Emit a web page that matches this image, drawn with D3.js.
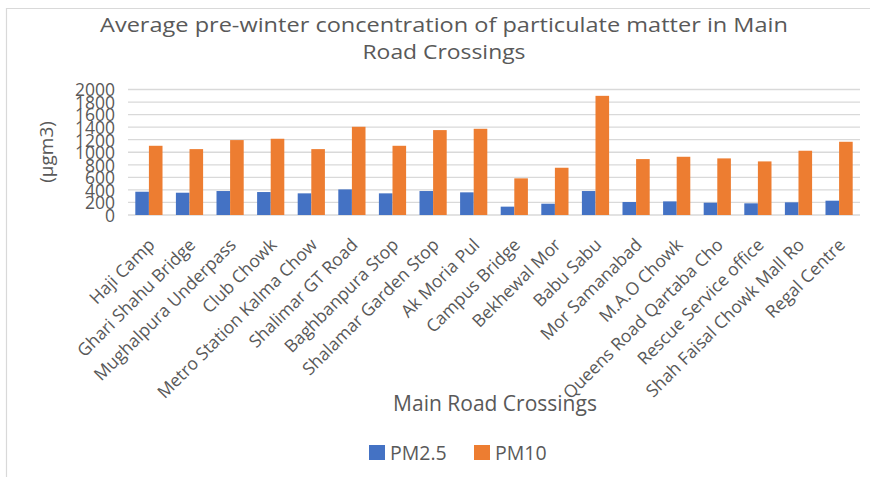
<!DOCTYPE html>
<html>
<head>
<meta charset="utf-8">
<script src="https://cdn.jsdelivr.net/npm/d3@7"></script>
<style>
  html, body { margin: 0; padding: 0; background: #fff; }
  svg { display: block; }
  text { font-family: "Open Sans", sans-serif; fill: #595959; }
</style>
</head>
<body>
<svg id="chart" width="870" height="477"></svg>
<script>
const categories = ["Haji Camp", "Ghari Shahu Bridge", "Mughalpura Underpass", "Club Chowk",
  "Metro Station Kalma Chow", "Shalimar GT Road", "Baghbanpura Stop", "Shalamar Garden Stop",
  "Ak Moria Pul", "Campus Bridge", "Bekhewal Mor", "Babu Sabu", "Mor Samanabad", "M.A.O Chowk",
  "Queens Road Qartaba Cho", "Rescue Service office", "Shah Faisal Chowk Mall Ro", "Regal Centre"];
const pm25 = [371, 355, 382, 366, 345, 408, 345, 382, 361, 133, 180, 382, 207, 217, 196, 186, 202, 228];
const pm10 = [1103, 1050, 1194, 1215, 1050, 1406, 1103, 1353, 1374, 584, 753, 1899, 891, 928, 902, 854, 1024, 1167];
const seriesNames = ["PM2.5", "PM10"];
const seriesColors = ["#4472C4", "#ED7D31"];
const yTicks = [0, 200, 400, 600, 800, 1000, 1200, 1400, 1600, 1800, 2000];

const svg = d3.select("#chart");

// chart border (left and top only visible)
svg.append("path")
  .attr("d", "M6.5,477 L6.5,8.5 L870,8.5")
  .attr("fill", "none").attr("stroke", "#d9d9d9").attr("stroke-width", 1.2);

const plot = { left: 128, right: 860, top: 89.5, bottom: 215 };

const x = d3.scaleBand().domain(categories).range([plot.left, plot.right])
  .paddingInner(0.33).paddingOuter(0.18);
const xs = d3.scaleBand().domain(seriesNames).range([0, x.bandwidth()]);
const y = d3.scaleLinear().domain([0, 2000]).range([plot.bottom, plot.top]);

// gridlines
svg.append("g").selectAll("line").data(yTicks).join("line")
  .attr("x1", plot.left).attr("x2", plot.right)
  .attr("y1", d => y(d)).attr("y2", d => y(d))
  .attr("stroke", "#d9d9d9").attr("stroke-width", 1.3);

// y axis labels
const yAxis = d3.axisLeft(y).tickValues(yTicks).tickFormat(d3.format("d")).tickSize(0).tickPadding(0);
const yg = svg.append("g").attr("transform", `translate(115,0)`).call(yAxis);
yg.select(".domain").remove();
yg.selectAll("text").attr("font-size", 17.5).style("fill", "#595959")
  .attr("font-family", "Open Sans, sans-serif").attr("dy", "0.36em");

// bars
const rows = categories.map((c, i) => ({ c, vals: [pm25[i], pm10[i]] }));
const groups = svg.append("g").selectAll("g").data(rows).join("g")
  .attr("transform", d => `translate(${x(d.c)},0)`);
groups.selectAll("rect").data(d => d.vals.map((v, k) => ({ k, v }))).join("rect")
  .attr("x", d => xs(seriesNames[d.k]))
  .attr("width", xs.bandwidth())
  .attr("y", d => y(d.v))
  .attr("height", d => y(0) - y(d.v))
  .attr("fill", d => seriesColors[d.k]);

// x axis labels
const xAxis = d3.axisBottom(x).tickSize(0).tickPadding(0);
const xg = svg.append("g").attr("transform", `translate(0,${plot.bottom})`).call(xAxis);
xg.select(".domain").remove();
xg.selectAll(".tick text")
  .attr("font-size", 17.5).attr("font-family", "Open Sans, sans-serif").style("fill", "#595959")
  .attr("text-anchor", "end")
  .attr("dy", 0).attr("y", 0)
  .attr("transform", "translate(7,31) rotate(-45)");

// titles
const title = svg.append("text").attr("text-anchor", "middle").attr("font-size", 20.5)
  .attr("lengthAdjust", "spacingAndGlyphs");
title.append("tspan").attr("x", 444).attr("y", 32)
  .attr("textLength", 688).attr("lengthAdjust", "spacingAndGlyphs")
  .text("Average pre-winter concentration of particulate matter in Main");
title.append("tspan").attr("x", 444).attr("y", 59)
  .attr("textLength", 163).attr("lengthAdjust", "spacingAndGlyphs")
  .text("Road Crossings");

svg.append("text").attr("text-anchor", "middle").attr("font-size", 19)
  .attr("transform", "translate(53,152) rotate(-90)").text("(µgm3)");

svg.append("text").attr("text-anchor", "middle").attr("font-size", 21)
  .attr("x", 495).attr("y", 411).text("Main Road Crossings");

// legend
const legendX = [369, 474];
const lg = svg.append("g").selectAll("g").data(seriesNames).join("g")
  .attr("transform", (d, i) => `translate(${legendX[i]},445)`);
lg.append("rect").attr("width", 16).attr("height", 15).attr("fill", (d, i) => seriesColors[i]);
lg.append("text").attr("x", 21).attr("y", 15).attr("font-size", 19.5).text(d => d);
</script>
</body>
</html>
